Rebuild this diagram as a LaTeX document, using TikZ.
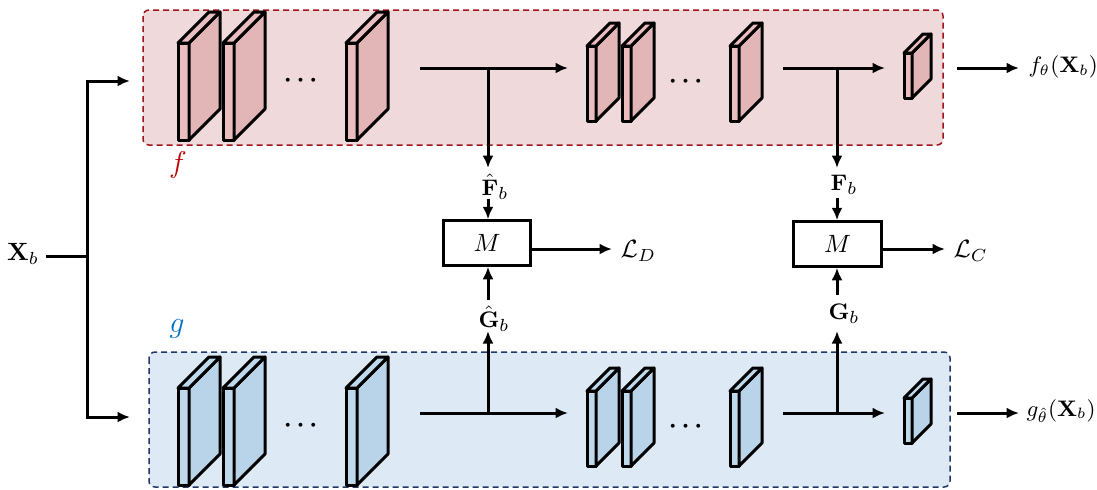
\documentclass[tikz,border=0pt]{standalone}
\usepackage{amsmath,amssymb}
\usetikzlibrary{arrows.meta}
\definecolor{redbox}{HTML}{EFD9DA}
\definecolor{redline}{HTML}{A0141E}
\definecolor{redfront}{HTML}{EABDBF}
\definecolor{redside}{HTML}{E2B5B6}
\definecolor{bluebox}{HTML}{DDEAF6}
\definecolor{blueline}{HTML}{1F3864}
\definecolor{bluefront}{HTML}{BFD9EC}
\definecolor{blueside}{HTML}{B9D4E8}
\definecolor{flabel}{HTML}{C00000}
\definecolor{glabel}{HTML}{0070C0}
\newcommand\convlayer[6]{%
  \filldraw[platestyle, fill=#6front] (#1,#2) rectangle ({#1+#3},{#2+#4});
  \filldraw[platestyle, fill=#6side] ({#1+#3},#2) -- ({#1+#3+#5},{#2-#5}) -- ({#1+#3+#5},{#2+#4-#5}) -- ({#1+#3},{#2+#4}) -- cycle;
  \filldraw[platestyle, fill=#6front] (#1,#2) -- ({#1+#5},{#2-#5}) -- ({#1+#3+#5},{#2-#5}) -- ({#1+#3},#2) -- cycle;
}
\tikzset{
  platestyle/.style={draw=black, line width=1.2pt, line join=round},
  netbox/.style={rounded corners=2.4pt, dashed, dash pattern=on 2.4pt off 1.6pt, line width=0.6pt},
  arr/.style={line width=1.2pt, -{Latex[length=5pt,width=4.4pt]}},
  plain/.style={line width=1.2pt},
  mbox/.style={draw, line width=1.2pt, minimum width=35pt, minimum height=17.8pt, inner sep=0pt, fill=white},
  lbl/.style={inner sep=0pt},
  featlbl/.style={inner sep=0pt, font=\fontsize{9.5}{11}\selectfont},
  outlbl/.style={inner sep=0pt, anchor=west, font=\fontsize{9}{10.5}\selectfont},
  dotlbl/.style={inner sep=0pt, font=\boldmath}
}
\begin{document}
\begin{tikzpicture}[x=0.4pt, y=-0.4pt]
\useasboundingbox (0,0) rectangle (1097,489);
% network boxes
\draw[netbox, draw=redline, fill=redbox] (143,10) rectangle (943,145);
\draw[netbox, draw=blueline, fill=bluebox] (149,352) rectangle (950,487);
\node[lbl, text=flabel, font=\large] (flab) at (178,165) {$f$};
\node[lbl, text=glabel, font=\large] (glab) at (177,329) {$g$};
% top layers
\convlayer{178}{43}{11}{97}{31}{red}
\convlayer{223}{43}{11}{97}{31}{red}
\convlayer{346}{43}{11}{97}{31}{red}
\node[dotlbl] (tdots1) at (303,81) {$\cdots$};
\convlayer{587}{46}{9}{75}{23}{red}
\convlayer{622}{46}{9}{75}{23}{red}
\convlayer{730}{46}{9}{75}{23}{red}
\node[dotlbl] (tdots2) at (688,82) {$\cdots$};
\convlayer{904}{53}{8}{45}{19}{red}
% bottom layers
\begin{scope}[shift={(0,345)}]
\convlayer{178}{43}{11}{97}{31}{blue}
\convlayer{223}{43}{11}{97}{31}{blue}
\convlayer{346}{43}{11}{97}{31}{blue}
\node[dotlbl] (bdots1) at (303,81) {$\cdots$};
\convlayer{587}{46}{9}{75}{23}{blue}
\convlayer{622}{46}{9}{75}{23}{blue}
\convlayer{730}{46}{9}{75}{23}{blue}
\node[dotlbl] (bdots2) at (688,82) {$\cdots$};
\convlayer{904}{53}{8}{45}{19}{blue}
\end{scope}
% input
\node[lbl] (xb) at (23,254) {$\mathbf{X}_b$};
\coordinate (xs) at (46,256);
\coordinate (br) at (87,256);
\coordinate (topin) at (130,81);
\coordinate (botin) at (130,417);
\draw[plain] (xs) -- (br);
\draw[arr] (br) |- (topin);
\draw[arr] (br) |- (botin);
% top internal arrows
\coordinate (t1s) at (420,68); \coordinate (t1j) at (488,68); \coordinate (t1e) at (568,68);
\coordinate (t2s) at (783,68); \coordinate (t2j) at (837,68); \coordinate (t2e) at (885,68);
\draw[arr] (t1s) -- (t1e);
\draw[arr] (t2s) -- (t2e);
% bottom internal arrows
\coordinate (b1s) at (420,413); \coordinate (b1j) at (488,413); \coordinate (b1e) at (568,413);
\coordinate (b2s) at (783,413); \coordinate (b2j) at (837,413); \coordinate (b2e) at (885,413);
\draw[arr] (b1s) -- (b1e);
\draw[arr] (b2s) -- (b2e);
% outputs
\coordinate (fos) at (957,68); \coordinate (foe) at (1019,68);
\coordinate (gos) at (957,413); \coordinate (goe) at (1019,413);
\draw[arr] (fos) -- (foe);
\draw[arr] (gos) -- (goe);
\node[outlbl] (fout) at (1028,67) {$f_\theta(\mathbf{X}_b)$};
\node[outlbl] (gout) at (1026,411) {$g_{\hat\theta}(\mathbf{X}_b)$};
% matching boxes
\node[mbox] (M1) at (487,243) {$M$};
\node[mbox] (M2) at (837.5,244) {$M$};
\node[featlbl] (fhat) at (495,187) {$\hat{\mathbf{F}}_b$};
\node[featlbl] (ghat) at (494,319) {$\hat{\mathbf{G}}_b$};
\node[featlbl] (fb) at (844,185) {$\mathbf{F}_b$};
\node[featlbl] (gb) at (844,314) {$\mathbf{G}_b$};
\coordinate (fhatin) at (488,168); \coordinate (fhatout) at (488,199);
\coordinate (ghatin) at (488,331); \coordinate (ghatout) at (488,300);
\coordinate (fbin) at (837,168); \coordinate (fbout) at (837,198);
\coordinate (gbin) at (837,331); \coordinate (gbout) at (837,295);
\draw[arr] (t1j) -- (fhatin);
\draw[arr] (fhatout) -- (M1.north -| fhatout);
\draw[arr] (b1j) -- (ghatin);
\draw[arr] (ghatout) -- (M1.south -| ghatout);
\draw[arr] (t2j) -- (fbin);
\draw[arr] (fbout) -- (M2.north -| fbout);
\draw[arr] (b2j) -- (gbin);
\draw[arr] (gbout) -- (M2.south -| gbout);
% losses
\coordinate (ld) at (612,249); \coordinate (lc) at (945,249);
\draw[arr] (M1.east |- ld) -- (ld);
\draw[arr] (M2.east |- lc) -- (lc);
\node[lbl, anchor=west] (LD) at (620,251) {$\mathcal{L}_D$};
\node[lbl, anchor=west] (LC) at (953,251) {$\mathcal{L}_C$};
\end{tikzpicture}
\end{document}
